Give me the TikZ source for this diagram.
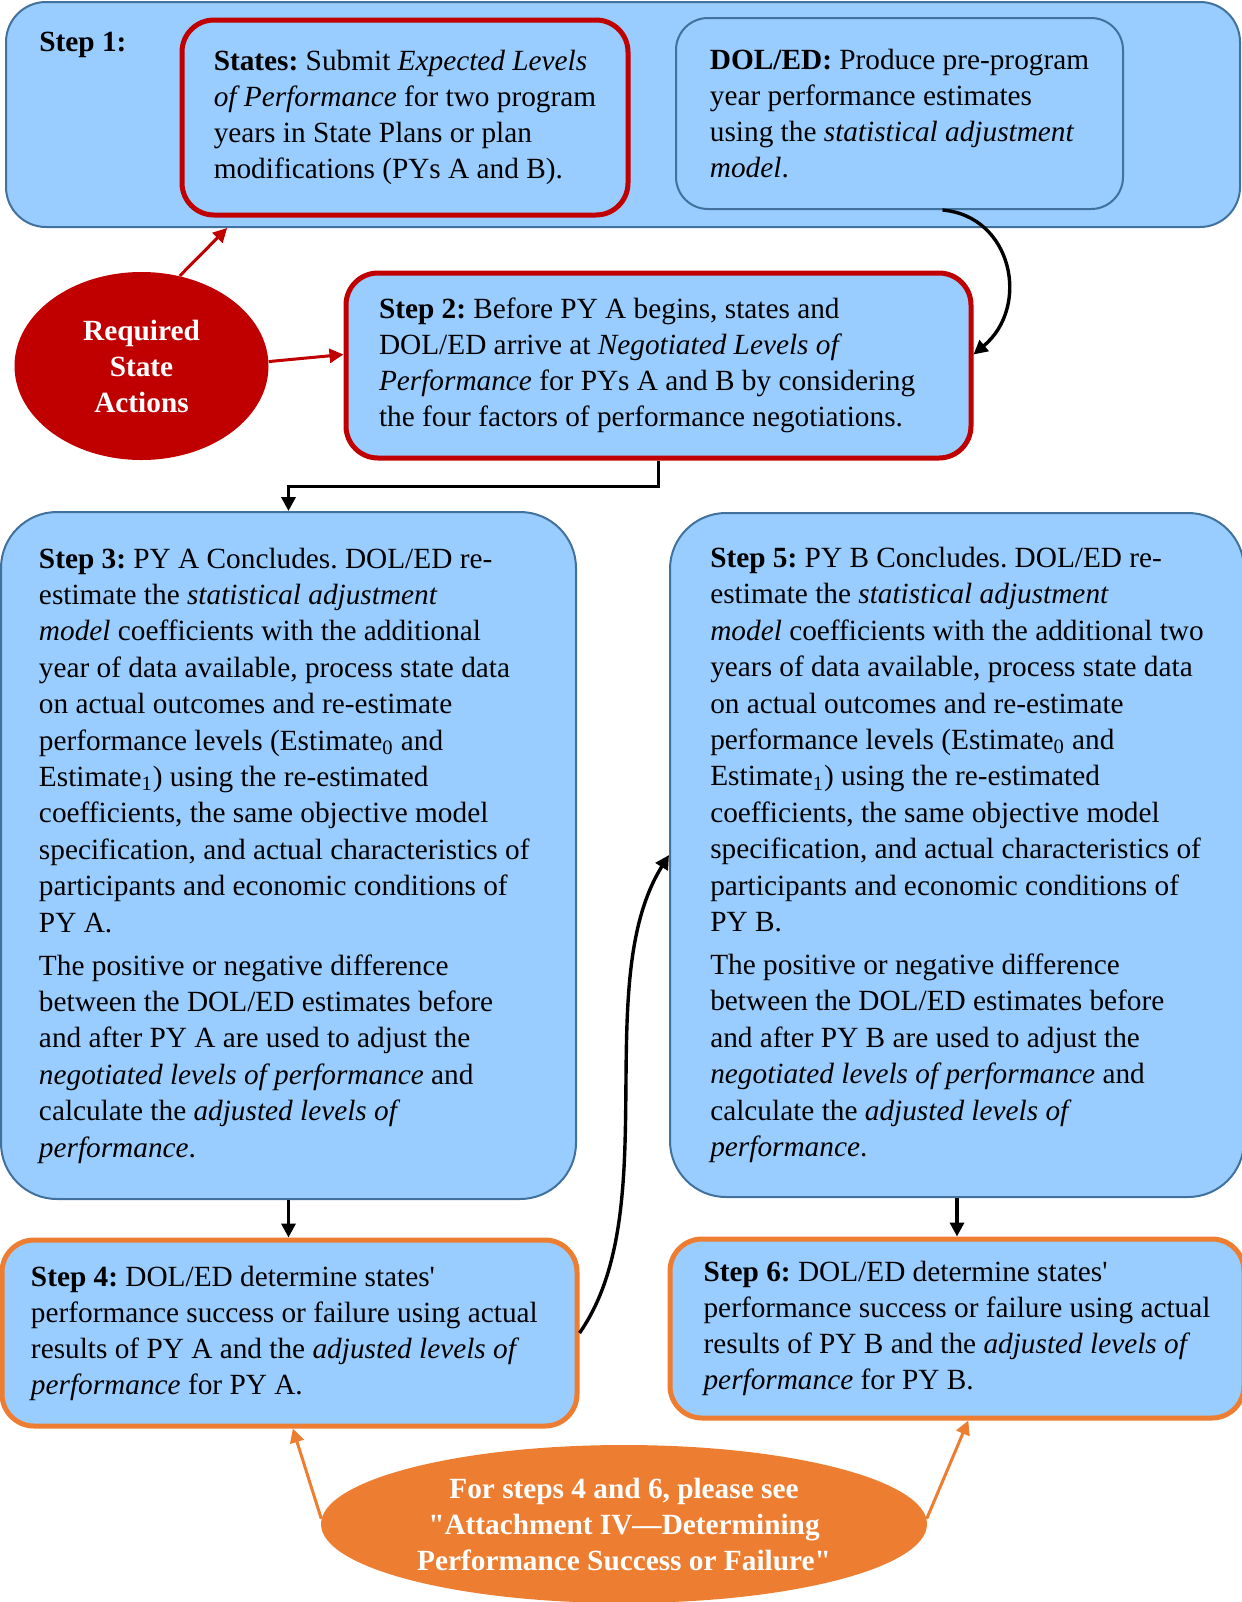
\documentclass[tikz,border=0pt]{standalone}
\usepackage{fontspec}
\setmainfont{Liberation Serif}[Ligatures=TeXOff]
\usetikzlibrary{arrows.meta,shapes.geometric}
\definecolor{boxfill}{HTML}{99CCFF}
\definecolor{boxline}{HTML}{41719C}
\definecolor{statered}{HTML}{C00000}
\definecolor{noteorange}{HTML}{ED7D31}
\frenchspacing
\newcommand{\boxfont}{\fontsize{14.65}{18}\selectfont}
\newcommand{\longfont}{\fontsize{14.65}{18.2}\selectfont}
\tikzset{
  stepbox/.style={draw=boxline, line width=1pt, fill=boxfill, rounded corners=16pt,
    align=flush left, inner sep=0pt, font=\boxfont},
  redbox/.style={stepbox, draw=statered, line width=2.5pt},
  orangebox/.style={stepbox, draw=noteorange, line width=2.5pt},
  oval/.style={ellipse, inner sep=0pt, align=center, text=white, font=\boxfont\bfseries},
  conn/.style={line width=1.7pt, -{Triangle[length=7pt,width=7pt]}},
  redarrow/.style={conn, draw=statered, line width=1.5pt},
  orangearrow/.style={conn, draw=noteorange, line width=1.5pt},
}
\begin{document}
\begin{tikzpicture}[x=0.5pt,y=-0.5pt]
\useasboundingbox (0,0) rectangle (1242,1602);
% Step 1 frame with its two boxes
\node[stepbox, rounded corners=20pt, minimum width=617pt, minimum height=112.5pt] (step1) at (623,114.5) {};
\node[font=\boxfont\bfseries, anchor=base west, inner sep=0pt] (step1lbl) at (39,51) {Step 1:};
\node[redbox, minimum width=223pt, minimum height=97.5pt] (states) at (405,117.5)
  {\textbf{States:} Submit \textit{Expected Levels}\\
   \textit{of Performance} for two program\\
   years in State Plans or plan\\
   modifications (PYs A and B).};
\node[stepbox, minimum width=223.5pt, minimum height=95.5pt] (dolbox) at (899.5,113.5)
  {\textbf{DOL/ED:} Produce pre-program\\
   year performance estimates\\
   using the \textit{statistical adjustment}\\
   \textit{model}.};
\node[oval, fill=statered, minimum width=127pt, minimum height=94pt] (req) at (141.5,366) {Required\\State\\Actions};
% Step 2
\node[redbox, minimum width=312.5pt, minimum height=92.5pt, text width=279.5pt, inner xsep=16.5pt] (step2) at (658.5,365.5)
  {\textbf{Step 2:} Before PY A begins, states and\\
   DOL/ED arrive at \textit{Negotiated Levels of}\\
   \textit{Performance} for PYs A and B by considering\\
   the four factors of performance negotiations.};
% Steps 3 and 5
\node[stepbox, rounded corners=28pt, minimum width=287.5pt, minimum height=343.5pt, text width=249.5pt, inner xsep=19pt, font=\longfont] (step3) at (288.5,855.5)
  {\textbf{Step 3:} PY A Concludes. DOL/ED re-\\
   estimate the \textit{statistical adjustment}\\
   \textit{model} coefficients with the additional\\
   year of data available, process state data\\
   on actual outcomes and re-estimate\\
   performance levels (Estimate\textsubscript{0} and\\
   Estimate\textsubscript{1}) using the re-estimated\\
   coefficients, the same objective model\\
   specification, and actual characteristics of\\
   participants and economic conditions of\\
   PY A.\\[3.3pt]
   The positive or negative difference\\
   between the DOL/ED estimates before\\
   and after PY A are used to adjust the\\
   \textit{negotiated levels of performance} and\\
   calculate the \textit{adjusted levels of}\\
   \textit{performance}.};
\node[stepbox, rounded corners=28pt, minimum width=287pt, minimum height=342pt, font=\longfont] (step5) at (957,855)
  {\textbf{Step 5:} PY B Concludes. DOL/ED re-\\
   estimate the \textit{statistical adjustment}\\
   \textit{model} coefficients with the additional two\\
   years of data available, process state data\\
   on actual outcomes and re-estimate\\
   performance levels (Estimate\textsubscript{0} and\\
   Estimate\textsubscript{1}) using the re-estimated\\
   coefficients, the same objective model\\
   specification, and actual characteristics of\\
   participants and economic conditions of\\
   PY B.\\[3.3pt]
   The positive or negative difference\\
   between the DOL/ED estimates before\\
   and after PY B are used to adjust the\\
   \textit{negotiated levels of performance} and\\
   calculate the \textit{adjusted levels of}\\
   \textit{performance}.};
% Steps 4 and 6
\node[orangebox, minimum width=287.5pt, minimum height=93pt, text width=258.5pt, inner xsep=14.5pt] (step4) at (289.5,1333)
  {\textbf{Step 4:} DOL/ED determine states'\\
   performance success or failure using actual\\
   results of PY A and the \textit{adjusted levels of}\\
   \textit{performance} for PY A.};
\node[orangebox, minimum width=287pt, minimum height=89.5pt] (step6) at (957,1328.5)
  {\textbf{Step 6:} DOL/ED determine states'\\
   performance success or failure using actual\\
   results of PY B and the \textit{adjusted levels of}\\
   \textit{performance} for PY B.};
\node[oval, fill=noteorange, minimum width=303pt, minimum height=79pt] (note) at (624,1524)
  {For steps 4 and 6, please see\\"Attachment IV—Determining\\Performance Success or Failure"};
% connectors
\draw[redarrow] (req.67) -- (step1.-164);
\draw[redarrow] (req.2) -- (step2.178);
\draw[conn] (dolbox.-66) to[out=-5, in=40, out distance=35pt, in distance=37.5pt] (step2.2);
\draw[conn] (step2.south) -- ++(0,26) -| (step3.north);
\draw[conn] (step3.south) -- (step3.south |- step4.north);
\draw[conn] (step5.south) -- (step6.north);
\draw[conn] (step4.east) to[out=55, in=-122, out distance=75pt, in distance=75pt] (step5.west);
\foreach \from/\to in {179/step4.-88, 1/step6.-83}
  \draw[orangearrow] (note.\from) -- (\to);
\end{tikzpicture}
\end{document}
